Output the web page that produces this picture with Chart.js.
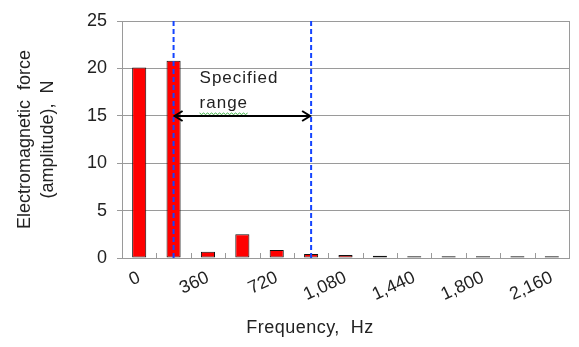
<!DOCTYPE html>
<html>
<head>
<meta charset="utf-8">
<script src="https://cdn.jsdelivr.net/npm/chart.js@4"></script>
<style>
  html, body { margin: 0; padding: 0; background: #fff; }
  #wrap { width: 579px; height: 347px; position: relative; }
</style>
</head>
<body>
<div id="wrap"><canvas id="grafico"></canvas></div>
<script>
// frecuencias (Hz) y amplitud de la fuerza electromagnetica (N)
const frecuencias = [0, 180, 360, 540, 720, 900, 1080, 1260, 1440, 1620, 1800, 1980, 2160];
const amplitudes = [20.1, 20.8, 0.65, 2.5, 0.85, 0.42, 0.32, 0.25, 0.18, 0.18, 0.18, 0.18, 0.18];
const ticksY = [0, 5, 10, 15, 20, 25];
// limites del rango especificado
const rangoInicio = 180;
const rangoFin = 900;
const rangoNivel = 15;
const rangoTexto = ['Specified', 'range'];
const tituloX = 'Frequency,  Hz';

const FUENTE = '"Liberation Sans", Arial, sans-serif';
const GRIS = '#9a9a9a';

const etiquetas = frecuencias.map(String);

// marcas cortas hacia adentro, marco del area, titulo X y rango especificado
const extras = {
  id: 'extras',
  afterDatasetsDraw(chart) {
    const ctx = chart.ctx;
    const area = chart.chartArea;
    const x = chart.scales.x;
    const y = chart.scales.y;

    ctx.save();
    // marco derecho
    ctx.strokeStyle = GRIS;
    ctx.lineWidth = 1;
    ctx.beginPath();
    ctx.moveTo(Math.round(area.right) + 0.5, area.top);
    ctx.lineTo(Math.round(area.right) + 0.5, area.bottom);
    ctx.stroke();

    // separadores de categoria
    for (let i = 1; i < etiquetas.length; i++) {
      const px = Math.round((x.getPixelForValue(i - 1) + x.getPixelForValue(i)) / 2) + 0.5;
      ctx.beginPath();
      ctx.moveTo(px, area.bottom - 5);
      ctx.lineTo(px, area.bottom);
      ctx.stroke();
    }

    const x1 = x.getPixelForValue(frecuencias.indexOf(rangoInicio));
    const x2 = x.getPixelForValue(frecuencias.indexOf(rangoFin));

    // lineas punteadas azules
    ctx.strokeStyle = '#1444ff';
    ctx.lineWidth = 2;
    ctx.setLineDash([5, 3]);
    [x1, x2].forEach(px => {
      ctx.beginPath();
      ctx.moveTo(px, area.top);
      ctx.lineTo(px, area.bottom);
      ctx.stroke();
    });
    ctx.setLineDash([]);

    // flecha doble
    const py = Math.round(y.getPixelForValue(rangoNivel));
    ctx.strokeStyle = '#000';
    ctx.lineWidth = 2;
    ctx.beginPath();
    ctx.moveTo(x1 + 1, py);
    ctx.lineTo(x2 - 1, py);
    ctx.moveTo(x1 + 9, py - 5);
    ctx.lineTo(x1 + 1, py);
    ctx.lineTo(x1 + 9, py + 5);
    ctx.moveTo(x2 - 9, py - 5);
    ctx.lineTo(x2 - 1, py);
    ctx.lineTo(x2 - 9, py + 5);
    ctx.stroke();

    // texto del rango
    ctx.fillStyle = '#222';
    ctx.font = '17px ' + FUENTE;
    ctx.letterSpacing = '1px';
    ctx.textAlign = 'left';
    ctx.textBaseline = 'alphabetic';
    const tx = x1 + 26;
    ctx.fillText(rangoTexto[0], tx, py - 33);
    ctx.fillText(rangoTexto[1], tx, py - 8);
    const ancho = ctx.measureText(rangoTexto[1]).width;

    // subrayado ondulado verde
    ctx.strokeStyle = '#3cb043';
    ctx.lineWidth = 1;
    ctx.beginPath();
    for (let k = 0; k <= ancho; k += 2) {
      const wy = py - 3 + ((k / 2) % 2 === 0 ? 0 : 1.5);
      if (k === 0) ctx.moveTo(tx + k, wy);
      else ctx.lineTo(tx + k, wy);
    }
    ctx.stroke();

    // titulo del eje X
    ctx.font = '18px ' + FUENTE;
    ctx.letterSpacing = '0.5px';
    ctx.textAlign = 'center';
    ctx.textBaseline = 'middle';
    ctx.fillText(tituloX, 310, 328);
    ctx.restore();
  }
};

new Chart(document.getElementById('grafico'), {
  type: 'bar',
  data: {
    labels: etiquetas,
    datasets: [{
      data: amplitudes,
      backgroundColor: '#ff0000',
      borderColor: '#111',
      borderWidth: 1,
      borderSkipped: false,
      barPercentage: 0.41,
      categoryPercentage: 1
    }]
  },
  options: {
    responsive: true,
    maintainAspectRatio: false,
    animation: false,
    devicePixelRatio: 1,
    layout: { padding: { top: 21, right: 10, left: 0, bottom: 0 } },
    plugins: {
      legend: { display: false },
      tooltip: { enabled: false }
    },
    scales: {
      x: {
        afterFit(scale) { scale.height = 89; },
        grid: { display: false, drawTicks: false },
        border: { display: true, color: GRIS, width: 1 },
        ticks: {
          autoSkip: false,
          minRotation: 25,
          maxRotation: 25,
          padding: 9,
          color: '#222',
          font: { family: FUENTE, size: 18 },
          callback: (v, i) => i % 2 === 0 ? frecuencias[i].toLocaleString('en-US') : ''
        }
      },
      y: {
        min: 0,
        max: 25,
        afterFit(scale) { scale.width = 122; },
        afterBuildTicks(scale) { scale.ticks = ticksY.map(v => ({ value: v })); },
        grid: { color: GRIS, lineWidth: 1, tickLength: 5, tickColor: GRIS },
        border: { display: true, color: GRIS, width: 1 },
        ticks: {
          padding: 10,
          color: '#222',
          font: { family: FUENTE, size: 18 }
        },
        title: {
          display: true,
          text: ['Electromagnetic  force', '(amplitude),  N'],
          color: '#222',
          font: { family: FUENTE, size: 18, lineHeight: 1.3 },
          padding: { top: 13, bottom: 0 }
        }
      }
    }
  },
  plugins: [extras]
});
</script>
</body>
</html>
